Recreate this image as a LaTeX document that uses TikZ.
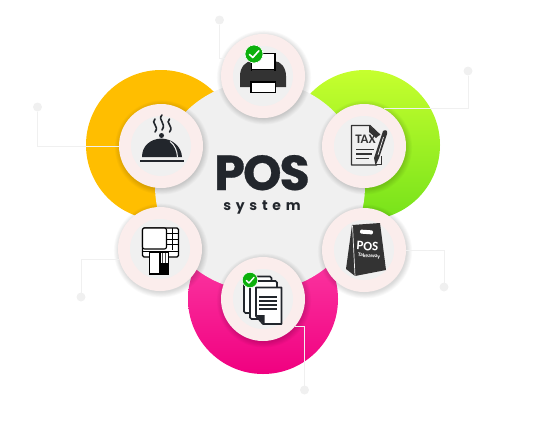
\documentclass[tikz,border=0pt]{standalone}
\usepackage{fontspec}
\setmainfont{Liberation Sans}
\newfontfamily\posfont{Poppins}
\newfontfamily\iconfont{Carlito}
\usetikzlibrary{calc}
\definecolor{ink}{HTML}{22262C}
\definecolor{icon}{HTML}{333333}
\definecolor{rim}{HTML}{FBEDEC}
\definecolor{core}{HTML}{F0F0F0}
\definecolor{leader}{HTML}{F0F0F0}
\definecolor{okgreen}{HTML}{0CB00C}
\definecolor{amber}{RGB}{255,190,0}
\tikzset{
  bigdisc/.style={circle,minimum size=150pt,inner sep=0pt,outer sep=0pt},
  hub/.style={circle,minimum size=210pt,inner sep=0pt,outer sep=0pt,fill=core},
  rimdisc/.style={circle,minimum size=84pt,inner sep=0pt,outer sep=0pt,fill=rim},
  coredisc/.style={circle,minimum size=60pt,inner sep=0pt,outer sep=0pt,fill=core},
  dotend/.style={circle,minimum size=9pt,inner sep=0pt,outer sep=0pt,fill=leader},
  leaderline/.style={draw=leader,line width=1pt},
  okbadge/.style={circle,inner sep=0pt,outer sep=0pt,fill=okgreen,draw=white,line width=.6pt},
  okcheck/.style={draw=white,line width=1.6pt,line cap=round,line join=round},
  thickline/.style={draw=black,line width=1.3pt,fill=white},
  rowline/.style={draw=icon,line width=1.1pt},
}
\newcommand{\softshadow}[1]{%
  \foreach \k in {7,6,5,4,3,2,1,0}{
    \fill[black,opacity=.02] (#1)++(1,1.5) circle[radius=41.5+\k*.8];
  }%
}
\begin{document}
\begin{tikzpicture}[x=1pt,y=-1pt]
\useasboundingbox (0,0) rectangle (545,423);
% large discs
\node[bigdisc,fill=amber] (ringA) at (161,145) {};
\node[bigdisc,top color={rgb,255:red,198;green,255;blue,46},bottom color={rgb,255:red,118;green,226;blue,26}] (ringB) at (365,145) {};
\node[bigdisc,top color={rgb,255:red,255;green,70;blue,170},bottom color={rgb,255:red,240;green,0;blue,128}] (ringC) at (263,299) {};
\node[hub] (hub) at (260,186) {};
% title
\node[text=ink,inner sep=0pt,text height=33pt,text depth=0pt] (title) at (262,173.5) {\posfont\bfseries\addfontfeature{LetterSpace=-4,FakeBold=.6}\fontsize{49}{49}\selectfont POS};
\node[text=ink,inner sep=0pt,text height=10pt,text depth=3pt] (subtitle) at (262,207) {\posfont\bfseries\addfontfeature{LetterSpace=34}\fontsize{14}{14}\selectfont system};
% shadows
\softshadow{263,76}
\softshadow{364,146}
\softshadow{161,146}
\softshadow{160,249}
\softshadow{263,299}
\softshadow{364,250}
% small discs
\node[rimdisc] (printer) at (263,76) {};
\node[coredisc] (printerCore) at (263,76) {};
\node[rimdisc] (tax) at (364,146) {};
\node[coredisc] (taxCore) at (364,146) {};
\node[rimdisc] (dome) at (161,146) {};
\node[coredisc] (domeCore) at (161,146) {};
\node[rimdisc] (atm) at (160,249) {};
\node[coredisc] (atmCore) at (160,249) {};
\node[rimdisc] (docs) at (263,299) {};
\node[coredisc] (docsCore) at (263,299) {};
\node[rimdisc] (bag) at (364,250) {};
\node[coredisc] (bagCore) at (364,250) {};
% leaders
\node[dotend] (dotP) at (219.5,20) {};
\node[dotend] (dotT) at (468,71) {};
\node[dotend] (dotD) at (37.5,107) {};
\node[dotend] (dotA) at (81,297) {};
\node[dotend] (dotB) at (444,287) {};
\node[dotend] (dotC) at (304.5,390) {};
\draw[leaderline] (dotP) |- (printer.155);
\draw[leaderline] (dotT) |- (tax.62);
\draw[leaderline] (dotD) |- (dome.180);
\draw[leaderline] (dotA) |- (atm.194);
\draw[leaderline] (dotB) |- (bag.east);
\draw[leaderline] (dotC) |- (docs.-40);
% printer icon
\fill[icon] (240,87)--(240,76) .. controls (240,67) and (246,61) .. (252,61) -- (274,61) .. controls (281,61) and (286,68) .. (286,76) -- (286,87) -- cycle;
\draw[thickline] (251.5,53.5) rectangle (275,70);
\fill[icon] (252,70) rectangle (274.4,73);
\draw[thickline] (251,82) rectangle (275.5,92.5);
\node[okbadge,minimum size=18pt] (okP) at (254,54) {};
\draw[okcheck] (249.5,54.5) -- (252.8,57.5) -- (258.8,50.8);
% tax icon
\draw[icon,line width=1.2pt,line join=round] (377,165) -- (351.5,165) -- (351.5,125.5) -- (370,125.5) -- (380,135);
\fill[icon] (369,125.5) -- (380,134.5) -- (376,138) -- (369,132) -- cycle;
\draw[icon,line width=1.2pt] (381.5,156) -- (381.5,164.5) -- (376,164.5);
\node[text=icon,inner sep=0pt] (taxLabel) at (365.5,139.5) {\iconfont\bfseries\fontsize{13}{13}\selectfont TAX};
\draw[rowline] (356,149.5) -- (374,149.5);
\draw[rowline] (356,154) -- (372,154);
\draw[rowline] (356,158.5) -- (369,158.5);
\fill[icon] (383,131) .. controls (386,129) and (388,131) .. (387,134) -- (379,158) -- (375.5,165.5) -- (374,158) -- cycle;
\draw[core,line width=.7pt] (383.5,137) -- (378,155);
% dome icon
\fill[ink] (142,157) .. controls (142,146) and (150,139) .. (161.5,138.5) .. controls (173,139) and (181.5,147) .. (182,157) -- cycle;
\fill[ink] (161.5,135.5) circle[radius=2.5];
\draw[core,line width=1pt] (170,141.5) .. controls (175,145) and (177,151) .. (177.5,157);
\fill[ink] (140,159.5) rectangle (183.5,162);
\draw[ink,line width=1.6pt,line cap=round] (155,119) .. controls (150,123) and (160,126) .. (155,132);
\draw[ink,line width=1.6pt,line cap=round] (162,115) .. controls (157,120) and (167,123) .. (162,130);
\draw[ink,line width=1.6pt,line cap=round] (169.5,119) .. controls (164.5,123) and (174.5,126) .. (169.5,132);
% atm icon
\draw[black,line width=1.1pt,fill=white,rounded corners=1.5pt] (142.5,228) rectangle (178.5,257);
\draw[black,line width=1.1pt,fill=white,rounded corners=2pt] (142.5,228) rectangle (166.5,249);
\draw[black,line width=1pt] (142.5,251) -- (178.5,251);
\draw[black,line width=.8pt] (166.5,233.5) -- (178.5,233.5);
\draw[black,line width=.8pt] (166.5,239) -- (178.5,239);
\draw[black,line width=.8pt] (166.5,244.5) -- (178.5,244.5);
\draw[black,line width=.8pt] (172.5,228) -- (172.5,250);
\draw[black,line width=1.1pt,fill=white] (149.5,252.5) rectangle (168.5,274);
\fill[black] (159,263) rectangle (168.5,274);
\fill[black] (159,252.5) rectangle (160.5,263);
\fill[black!70] (162,253) rectangle (163,263);
\fill[black!70] (165,253) rectangle (166,263);
% docs icon
\draw[ink,line width=1.7pt,fill=white,rounded corners=1.5pt] (244,276.5) rectangle (271.5,313);
\draw[ink,line width=1.7pt,fill=white,rounded corners=1.5pt] (250,281) rectangle (277,319);
\draw[ink,line width=1.7pt,fill=white,line join=round] (256,287.5) -- (281.5,287.5) -- (281.5,324) -- (263,324) -- (256,316) -- cycle;
\fill[ink] (256,315) -- (264.5,315) -- (264.5,324.5) -- cycle;
\foreach \yy in {297,301,305,309}{\draw[ink,line width=1.5pt] (259,\yy) -- (277,\yy);}
\node[okbadge,minimum size=15.5pt] (okD) at (250,280) {};
\draw[okcheck,line width=1.4pt] (246.3,280.5) -- (249,283) -- (254,277.4);
% bag icon
\fill[icon] (352,225) -- (380,223) -- (386,270) -- (355,276) -- (346,269) -- cycle;
\draw[core,line width=.7pt] (352.5,225.5) -- (355,276);
\fill[white,rounded corners=1.2pt,rotate around={-4:(366.5,232)}] (360,230) rectangle (373,234);
\node[text=white,inner sep=0pt,rotate=-4,text height=8pt,text depth=0pt] (bagPos) at (367.5,246.5) {\iconfont\bfseries\fontsize{13}{13}\selectfont POS};
\node[text=white,inner sep=0pt,rotate=-4,text height=3.5pt,text depth=.5pt] (bagSub) at (369,256) {\iconfont\bfseries\fontsize{5.5}{5.5}\selectfont Takeaway};
\end{tikzpicture}
\end{document}
